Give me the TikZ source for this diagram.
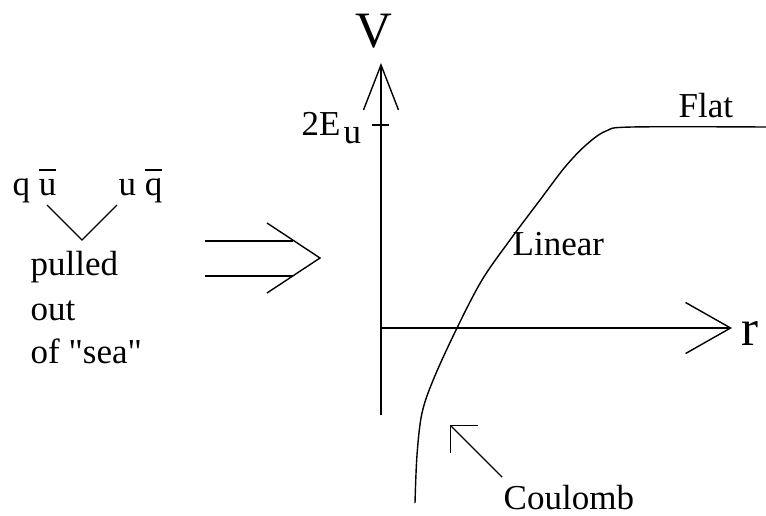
\documentclass[tikz,border=0pt]{standalone}
\usepackage{fontspec}
\setmainfont{Liberation Serif}[Ligatures=TeXOff]
\usetikzlibrary{arrows.meta}

\newcommand{\antibar}[1]{\setbox0\hbox{#1}\rlap{\rule[0.7em]{\wd0}{0.04em}}\box0}

\tikzset{
    lbl/.style={font=\fontsize{17.5}{21}\selectfont, anchor=base west, inner sep=0pt},
    axislbl/.style={font=\fontsize{25.5}{30}\selectfont, anchor=base west, inner sep=0pt},
    thin line/.style={line width=0.7pt}
}

\begin{document}
\begin{tikzpicture}[x=0.5pt, y=-0.5pt, thin line]
    \useasboundingbox (0,0) rectangle (766,515);

    % Quark pair pulled out of the sea
    \node[lbl] (qubar) at (12,195) {q \antibar{u}};
    \node[lbl] (uqbar) at (118,195) {u \antibar{q}};
    \draw (47,205) -- (82,240) -- (117,205);
    \node[lbl] (pulled) at (30,275) {pulled};
    \node[lbl] (out) at (30,320) {out};
    \node[lbl] (sea) at (30,363) {of "sea"};

    % Implies arrow
    \draw[line width=0.9pt] (205,241) -- (293,241);
    \draw[line width=0.9pt] (205,276) -- (293,276);
    \draw (267,223) -- (320,258) -- (267,293);

    % Axes
    \draw[-{Straight Barb[length=22.5pt, width=17.5pt]}] (381,415) -- (381,63);
    \draw[-{Straight Barb[length=22.5pt, width=25.5pt]}] (381,328) -- (732,328);
    \node[axislbl] (V) at (355,47) {V};
    \node[axislbl] (r) at (741,345) {r};

    % Tick for 2E_u
    \draw (372,125) -- (389,125);
    \node[lbl] (twoE) at (301,135) {2E};
    \node[lbl] (sub) at (343,143) {u};

    % Potential curve
    \draw plot[smooth, tension=0.55] coordinates {
        (415,503) (417,455) (422,413) (434,378) (457,328) (482,280)
        (510,240) (540,200) (565,167) (586,145) (606,131) (632,127) (766,127)};

    % Region labels
    \node[lbl] (flat) at (678,117) {Flat};
    \node[lbl] (linear) at (512,255) {Linear};
    \node[lbl] (coulomb) at (503,509) {Coulomb};
    \draw[-{Straight Barb[length=9.5pt, width=19pt]}] (502,477) -- (450,425);

\end{tikzpicture}
\end{document}
